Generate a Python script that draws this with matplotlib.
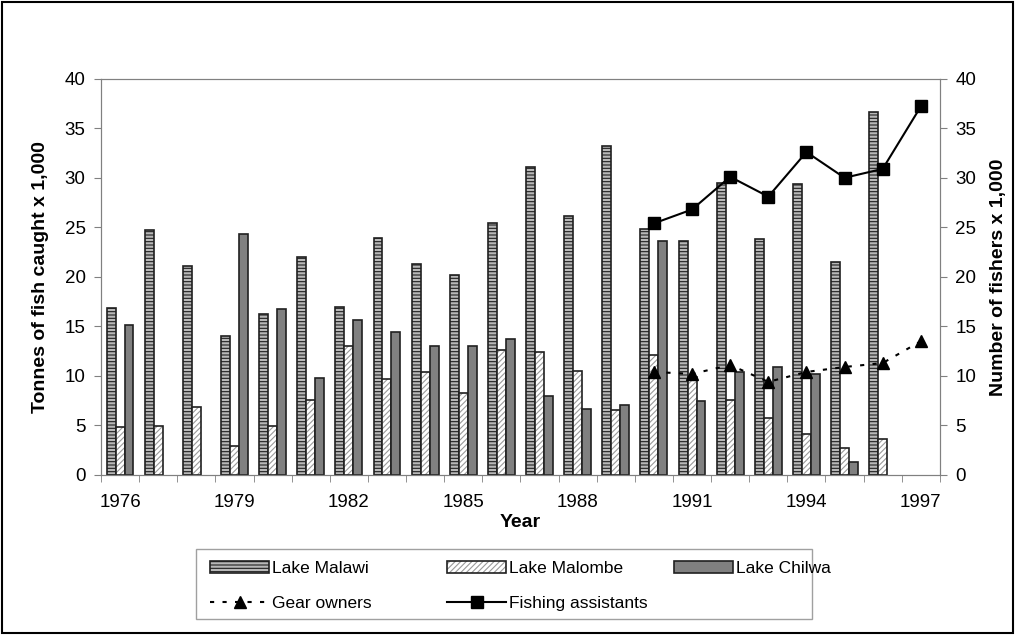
import numpy as np
import matplotlib.pyplot as plt
from matplotlib.patches import Rectangle

plt.rcParams['font.family'] = ['Liberation Sans', 'DejaVu Sans']
plt.rcParams['hatch.linewidth'] = 0.8

# 年份与数据
years = list(range(1976, 1998))
malawi = [16.9, 24.7, 21.1, 14.0, 16.3, 22.0, 17.0, 23.9, 21.3, 20.2, 25.4,
          31.1, 26.1, 33.2, 24.8, 23.6, 29.5, 23.8, 29.4, 21.5, 36.6, 0]
malombe = [4.8, 4.95, 6.9, 2.9, 4.95, 7.6, 13.0, 9.7, 10.4, 8.3, 12.6,
           12.4, 10.5, 6.6, 12.1, 9.9, 7.6, 5.8, 4.1, 2.75, 3.6, 0]
chilwa = [15.1, 0, 0, 24.3, 16.8, 9.8, 15.6, 14.4, 13.0, 13.0, 13.7,
          8.0, 6.7, 7.1, 23.6, 7.5, 10.4, 10.9, 10.2, 1.35, 0, 0]

fisher_years = list(range(1990, 1998))
gear_owners = [10.4, 10.2, 11.1, 9.4, 10.4, 10.9, 11.3, 13.5]
fishing_assistants = [25.4, 26.8, 30.1, 28.1, 32.6, 30.0, 30.9, 37.2]

x = np.arange(len(years))
xf = np.array([years.index(y) for y in fisher_years])
w = 0.235


def nonzero(vals):
    v = np.array(vals, dtype=float)
    m = v > 0
    return x[m], v[m]


fig = plt.figure(figsize=(10.15, 6.35), dpi=100)
ax = fig.add_axes([0.0995, 0.252, 0.8265, 0.624])
ax2 = ax.twinx()

# 柱状图（0 值不画）
xm, vm = nonzero(malawi)
b1 = ax.bar(xm - w, vm, w, color='#b8b8b8', edgecolor='#202020', hatch='-----', linewidth=1.2)
xm, vm = nonzero(malombe)
b2h = ax.bar(xm, vm, w, color='white', edgecolor='#9a9a9a', hatch='//////', linewidth=0)
b2 = ax.bar(xm, vm, w, fill=False, edgecolor='#202020', linewidth=1.2)
xm, vm = nonzero(chilwa)
b3 = ax.bar(xm + w, vm, w, color='#808080', edgecolor='#202020', linewidth=1.2)

# 折线
l1, = ax2.plot(xf, gear_owners, color='black', linestyle=(0, (2, 4)), linewidth=1.5,
               marker='^', markersize=8)
l2, = ax2.plot(xf, fishing_assistants, color='black', linestyle='-', linewidth=1.5,
               marker='s', markersize=8)

for a in (ax, ax2):
    a.set_ylim(0, 40)
    a.set_yticks(range(0, 41, 5))
    for s in a.spines.values():
        s.set_color('#808080')
    a.tick_params(axis='y', colors='#808080', labelcolor='black', labelsize=13.5,
                  length=5, pad=6)

ax.set_xlim(-0.5, len(years) - 0.5)
ax.set_xticks(x[::3])
ax.set_xticklabels([str(y) for y in years[::3]])
ax.set_xticks(np.arange(-0.5, len(years), 1), minor=True)
ax.tick_params(axis='x', which='major', length=0, labelsize=13.5, pad=14)
ax.tick_params(axis='x', which='minor', length=5, colors='#808080')

ax.set_xlabel('Year', fontsize=14, fontweight='bold', labelpad=2)
ax.set_ylabel('Tonnes of fish caught x 1,000', fontsize=14, fontweight='bold', labelpad=11)
ax2.set_ylabel('Number of fishers x 1,000', fontsize=14, fontweight='bold', rotation=90,
               labelpad=10)

# 图例：三列分别放置，外加一个框
leg_kw = dict(loc='upper left', fontsize=12.5, frameon=False, borderpad=0, borderaxespad=0,
              handlelength=3.4, handletextpad=0.15, labelspacing=1.1, numpoints=1)
fig.legend([b1, l1], ['Lake Malawi', 'Gear owners'], bbox_to_anchor=(0.2069, 0.116), **leg_kw)
fig.legend([(b2h, b2), l2], ['Lake Malombe', 'Fishing assistants'],
           bbox_to_anchor=(0.4404, 0.116), **leg_kw)
fig.legend([b3], ['Lake Chilwa'], bbox_to_anchor=(0.664, 0.116), **leg_kw)
fig.patches.append(Rectangle((0.1931, 0.0252), 0.6069, 0.1102, transform=fig.transFigure,
                             fill=False, edgecolor='#a0a0a0', linewidth=1.0))

# 外框
fig.patches.append(Rectangle((0.002, 0.003), 0.996, 0.994, transform=fig.transFigure,
                             fill=False, edgecolor='black', linewidth=1.5))

fig.savefig('out.png', dpi=100)
